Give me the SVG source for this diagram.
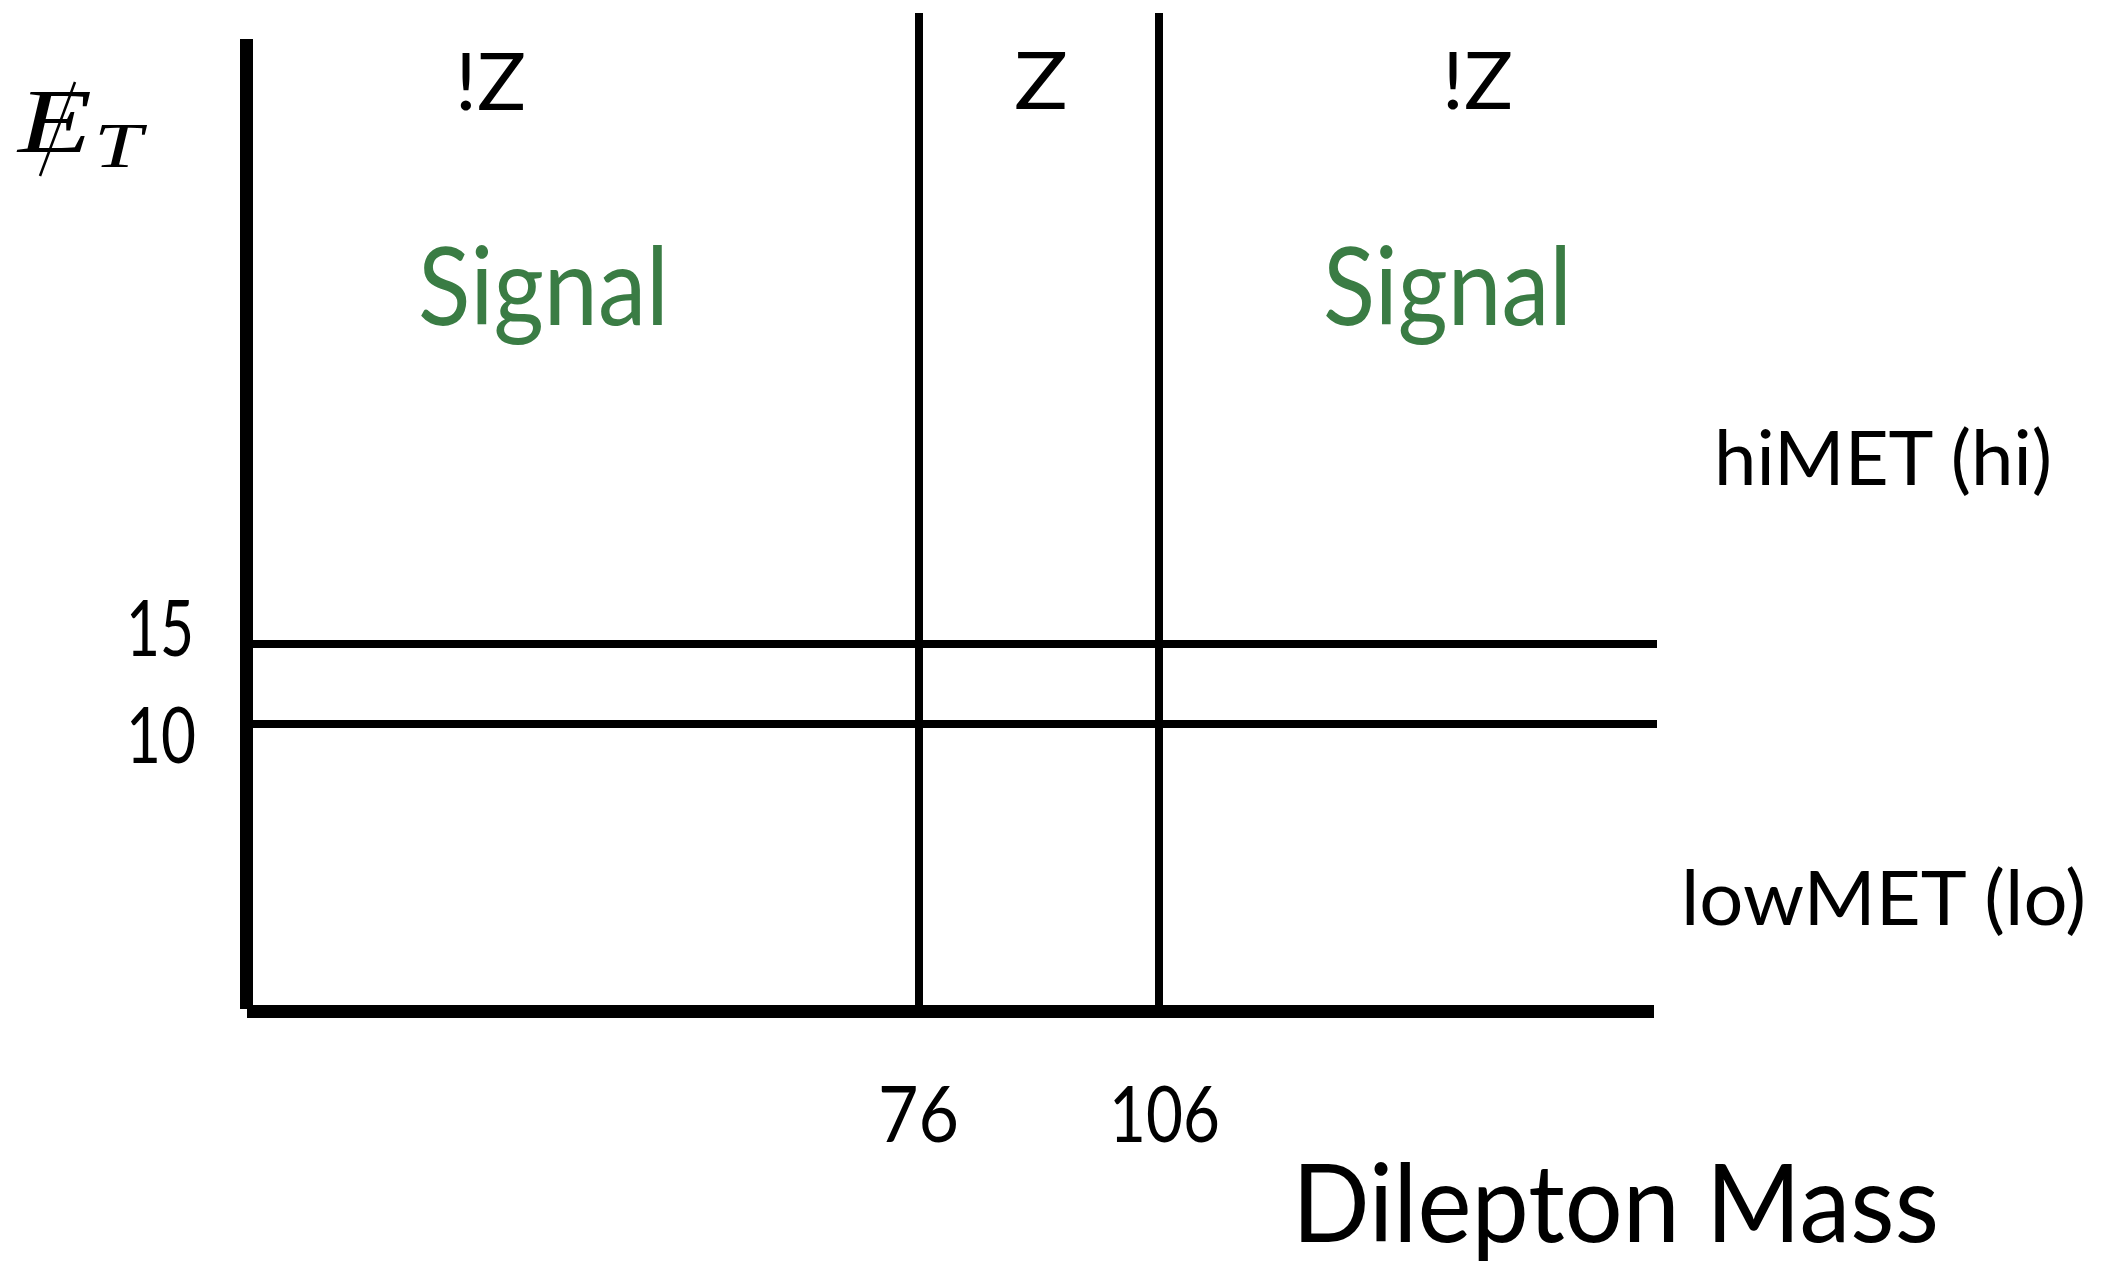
<svg xmlns="http://www.w3.org/2000/svg" width="2101" height="1267" viewBox="0 0 2101 1267">
<style>
.lbl{font-family:Lato,"Open Sans","Liberation Sans",sans-serif;fill:#000}
.sig{font-family:Lato,"Open Sans","Liberation Sans",sans-serif;fill:#3a7c44}
.math{font-family:"Liberation Serif","DejaVu Serif",serif;font-style:italic;fill:#000}
.thick{stroke:#000;stroke-width:13;fill:none}
.thin{stroke:#000;stroke-width:8;fill:none}
</style>
<rect width="2101" height="1267" fill="#fff"/>
<g id="axes">
<line class="thick" x1="246.5" y1="39" x2="246.5" y2="1009"/>
<line class="thick" x1="247" y1="1011.5" x2="1654" y2="1011.5"/>
</g>
<g id="cuts">
<line class="thin" x1="919" y1="13" x2="919" y2="1005"/>
<line class="thin" x1="1159" y1="13" x2="1159" y2="1005"/>
<line class="thin" x1="253" y1="644" x2="1657" y2="644"/>
<line class="thin" x1="253" y1="724" x2="1657" y2="724"/>
</g>
<g id="met-symbol">
<text class="math" x="18" y="152" font-size="92" textLength="74" lengthAdjust="spacingAndGlyphs">E</text>
<text class="math" x="94" y="167" font-size="64" textLength="48" lengthAdjust="spacingAndGlyphs">T</text>
<line x1="40" y1="176" x2="75" y2="82" stroke="#000" stroke-width="2.5"/>
</g>
<g id="region-labels">
<text class="lbl" x="455" y="110" font-size="80" textLength="71" lengthAdjust="spacingAndGlyphs">!Z</text>
<text class="lbl" x="1014" y="109" font-size="80" textLength="54" lengthAdjust="spacingAndGlyphs">Z</text>
<text class="lbl" x="1442" y="109" font-size="80" textLength="71" lengthAdjust="spacingAndGlyphs">!Z</text>
</g>
<g id="signal-left">
<text class="sig" x="418" y="325" font-size="108" textLength="251" lengthAdjust="spacingAndGlyphs">Signal</text>
</g>
<g id="signal-right">
<text class="sig" x="1323" y="325" font-size="108" textLength="249" lengthAdjust="spacingAndGlyphs">Signal</text>
</g>
<g id="met-labels">
<text class="lbl" x="1714" y="485" font-size="76" textLength="338" lengthAdjust="spacingAndGlyphs">hiMET (hi)</text>
<text class="lbl" x="1681" y="925" font-size="76" textLength="405" lengthAdjust="spacingAndGlyphs">lowMET (lo)</text>
</g>
<g id="ticks">
<text class="lbl" x="126" y="656" font-size="78" textLength="68" lengthAdjust="spacingAndGlyphs">15</text>
<text class="lbl" x="126" y="763" font-size="78" textLength="70" lengthAdjust="spacingAndGlyphs">10</text>
<text class="lbl" x="878" y="1142" font-size="78" textLength="81" lengthAdjust="spacingAndGlyphs">76</text>
<text class="lbl" x="1109" y="1142" font-size="78" textLength="111" lengthAdjust="spacingAndGlyphs">106</text>
</g>
<g id="x-title">
<text class="lbl" x="1292" y="1242" font-size="108" textLength="647" lengthAdjust="spacingAndGlyphs">Dilepton Mass</text>
</g>
</svg>
